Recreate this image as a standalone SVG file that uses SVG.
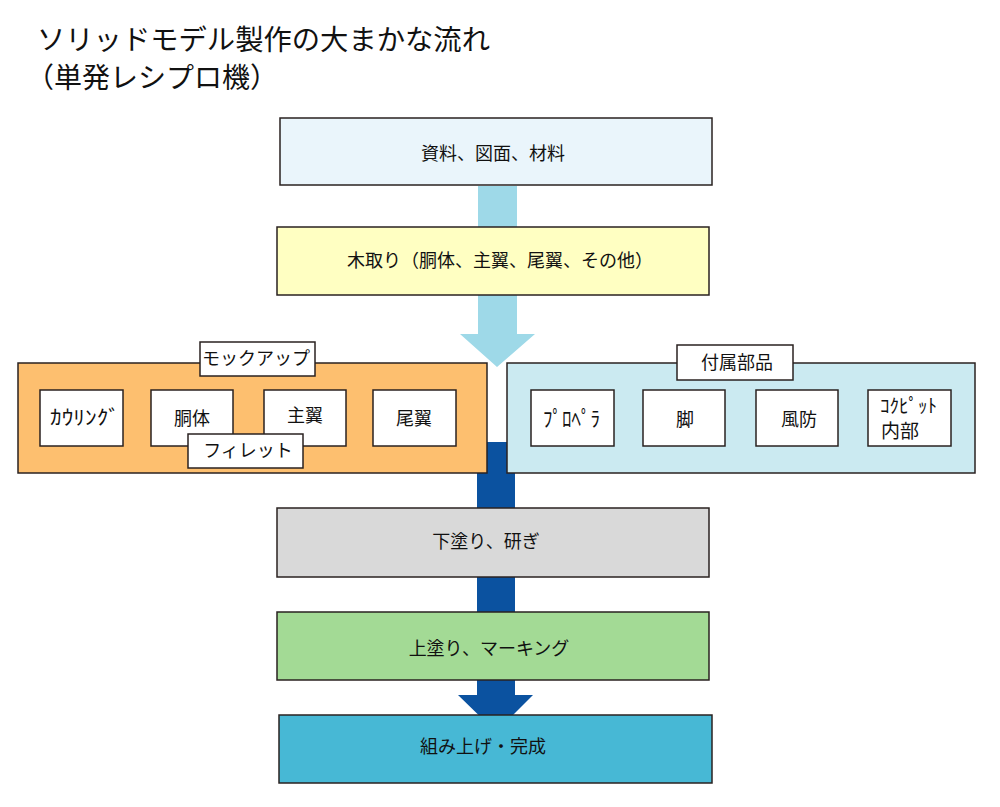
<svg xmlns="http://www.w3.org/2000/svg" width="1000" height="807" viewBox="0 0 1000 807">
<style>
text{font-family:"Noto Sans CJK JP","Noto Sans",sans-serif;fill:#111;}
.title{font-size:28px;}
.t{font-size:18px;text-anchor:middle;}
.s{font-size:18px;text-anchor:middle;}
.b{stroke:#2a2220;stroke-width:1.5;}
.w{fill:#fff;stroke:#2a2220;stroke-width:1.5;}
</style>
<rect width="1000" height="807" fill="#fff"/>
<text class="title" x="37" y="50" textLength="453" lengthAdjust="spacingAndGlyphs">ソリッドモデル製作の大まかな流れ</text>
<text class="title" x="26" y="88">（単発レシプロ機）</text>
<g id="connectors">
<polygon points="478,186 517,186 517,334 535,334 497,367 460,334 478,334" fill="#9ED9E8"/>
<polygon points="477,442 515,442 515,695 533,695 496,732 458,695 477,695" fill="#0B52A0"/>
</g>
<g id="n1"><rect class="b" x="280" y="118" width="432" height="67" fill="#EAF5FB"/><text class="t" x="493" y="160">資料、図面、材料</text></g>
<g id="n2"><rect class="b" x="277" y="227" width="432" height="68" fill="#FFFFC2"/><text class="t" x="500" y="267">木取り（胴体、主翼、尾翼、その他）</text></g>
<g id="mockup">
<rect class="b" x="18" y="363" width="469" height="110" fill="#FDBF6F"/>
<rect class="w" x="200" y="342" width="115" height="34"/><text class="s" x="256" y="365" font-size="16">モックアップ</text>
<g id="cowling"><rect class="w" x="40" y="390" width="83" height="56"/><text x="50" y="425" font-size="20" textLength="70" lengthAdjust="spacingAndGlyphs">ｶｳﾘﾝｸﾞ</text></g>
<g id="fuselage"><rect class="w" x="151" y="390" width="82" height="56"/><text class="s" x="192" y="425" font-size="19">胴体</text></g>
<g id="mainwing"><rect class="w" x="264" y="390" width="82" height="56"/><text class="s" x="305" y="422" font-size="19">主翼</text></g>
<g id="tailwing"><rect class="w" x="373" y="390" width="83" height="56"/><text class="s" x="414" y="425" font-size="19">尾翼</text></g>
<g id="fillet"><rect class="w" x="188" y="434" width="115" height="34"/><text class="s" x="248" y="457" font-size="16">フィレット</text></g>
</g>
<g id="parts">
<rect class="b" x="507" y="363" width="468" height="110" fill="#CBEAF1"/>
<rect class="w" x="677" y="345" width="116" height="35"/><text class="s" x="737" y="369" font-size="19">付属部品</text>
<g id="propeller"><rect class="w" x="531" y="390" width="83" height="56"/><text x="543" y="426" font-size="21" textLength="57" lengthAdjust="spacingAndGlyphs">ﾌﾟﾛﾍﾟﾗ</text></g>
<g id="leg"><rect class="w" x="643" y="390" width="82" height="56"/><text class="s" x="685" y="426" font-size="19">脚</text></g>
<g id="windshield"><rect class="w" x="756" y="390" width="82" height="56"/><text class="s" x="799" y="426" font-size="20">風防</text></g>
<g id="cockpit"><rect class="w" x="868" y="390" width="83" height="56"/><text x="880" y="413" font-size="19" textLength="57" lengthAdjust="spacingAndGlyphs">ｺｸﾋﾟｯﾄ</text><text x="881" y="438" font-size="19">内部</text></g>
</g>
<g id="n3"><rect class="b" x="277" y="508" width="432" height="69" fill="#D9D9D9"/><text class="t" x="486" y="548">下塗り、研ぎ</text></g>
<g id="n4"><rect class="b" x="277" y="612" width="432" height="68" fill="#A3DA95"/><text class="t" x="489" y="655">上塗り、マーキング</text></g>
<g id="n5"><rect class="b" x="279" y="715" width="433" height="68" fill="#47B8D5"/><text class="t" x="483" y="753">組み上げ・完成</text></g>
</svg>
